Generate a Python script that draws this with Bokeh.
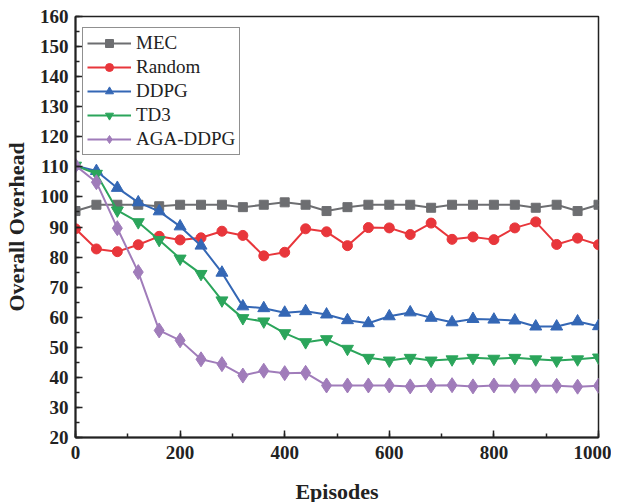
from bokeh.plotting import figure
from bokeh.models import Legend, LegendItem, Range1d, FixedTicker
from bokeh.embed import file_html
from bokeh.resources import INLINE

episodes = [0, 40, 80, 120, 160, 200, 240, 280, 320, 360, 400, 440, 480, 520,
            560, 600, 640, 680, 720, 760, 800, 840, 880, 920, 960, 1000]
mec = [95.3, 97.4, 97.4, 97.4, 96.9, 97.4, 97.4, 97.4, 96.6, 97.4, 98.2, 97.4, 95.3,
       96.6, 97.4, 97.4, 97.4, 96.4, 97.4, 97.4, 97.4, 97.4, 96.4, 97.4, 95.3, 97.4]
rand = [89.4, 82.7, 81.8, 84.1, 86.9, 85.7, 86.4, 88.6, 87.2, 80.4, 81.6, 89.4, 88.4,
        83.8, 89.8, 89.7, 87.5, 91.3, 85.9, 86.7, 85.8, 89.7, 91.7, 84.2, 86.3, 84.1]
ddpg = [110.4, 108.6, 103.0, 98.2, 95.2, 90.2, 83.8, 74.8, 63.6, 63.0, 61.5, 62.0, 60.9,
        59.0, 58.0, 60.3, 61.6, 59.8, 58.3, 59.4, 59.2, 58.9, 56.9, 56.9, 58.6, 57.0]
td3 = [110.4, 107.7, 95.5, 91.6, 85.7, 79.5, 74.4, 65.6, 59.7, 58.6, 54.7, 51.7, 52.7,
       49.5, 46.5, 45.6, 46.5, 45.6, 46.0, 46.5, 46.2, 46.5, 46.0, 45.6, 46.0, 46.6]
aga = [110.4, 104.9, 89.6, 75.0, 55.6, 52.3, 46.0, 44.4, 40.6, 42.2, 41.4, 41.5, 37.3,
       37.3, 37.3, 37.3, 37.0, 37.3, 37.4, 37.0, 37.3, 37.2, 37.2, 37.2, 36.9, 37.2]

names = ["MEC", "Random", "DDPG", "TD3", "AGA-DDPG"]
series = [mec, rand, ddpg, td3, aga]
colors = ["#6d6e71", "#e8363b", "#3467b5", "#2ba55b", "#a07cba"]
markers = ["square", "circle", "triangle", "inverted_triangle", "diamond"]
sizes = [9, 10, 12, 12, 15]

x_ticks = [0, 200, 400, 600, 800, 1000]
y_ticks = list(range(20, 161, 10))

FONT = "Liberation Serif"

p = figure(frame_width=523, frame_height=421, output_backend="svg", toolbar_location=None,
           x_range=Range1d(0, 1000), y_range=Range1d(20, 160),
           min_border_left=75, min_border_right=13, min_border_top=16, min_border_bottom=60)
p.xgrid.visible = False
p.ygrid.visible = False
p.outline_line_color = "#222222"
p.outline_line_width = 1.5
p.background_fill_color = "white"

items = []
for name, ys, c, m, s in zip(names, series, colors, markers, sizes):
    r1 = p.line(episodes, ys, line_color=c, line_width=2)
    r2 = p.scatter(episodes, ys, marker=m, size=s, fill_color=c, line_color=c)
    items.append(LegendItem(label=name, renderers=[r1, r2]))

p.xaxis.ticker = FixedTicker(ticks=x_ticks, minor_ticks=list(range(0, 1001, 100)))
p.yaxis.ticker = FixedTicker(ticks=y_ticks, minor_ticks=list(range(20, 161, 5)))

for ax in (p.xaxis[0], p.yaxis[0]):
    ax.axis_line_width = 2
    ax.axis_line_color = "#222222"
    ax.major_tick_in = 7
    ax.major_tick_out = 0
    ax.minor_tick_in = 4
    ax.minor_tick_out = 0
    ax.major_tick_line_width = 1.5
    ax.minor_tick_line_width = 1.5
    ax.major_tick_line_color = "#222222"
    ax.minor_tick_line_color = "#222222"
    ax.major_label_text_font = FONT
    ax.major_label_text_font_style = "bold"
    ax.major_label_text_font_size = "19px"
    ax.major_label_text_color = "#222222"
    ax.axis_label_text_font = FONT
    ax.axis_label_text_font_style = "bold"
    ax.axis_label_text_font_size = "22px"
    ax.axis_label_text_color = "#222222"

p.xaxis.axis_label = "Episodes"
p.yaxis.axis_label = "Overall Overhead"
p.xaxis.major_label_standoff = 8
p.yaxis.major_label_standoff = 7
p.xaxis.axis_label_standoff = 17
p.yaxis.axis_label_standoff = 8

legend = Legend(items=items, location=(7, 282))
legend.label_text_font = FONT
legend.label_text_font_size = "19px"
legend.label_text_color = "#222222"
legend.glyph_width = 44
legend.glyph_height = 20
legend.label_height = 20
legend.spacing = 2
legend.padding = 4
legend.margin = 0
legend.label_standoff = 5
legend.border_line_color = "#222222"
legend.border_line_width = 1
legend.background_fill_alpha = 1
p.add_layout(legend)

open("out.html", "w").write(file_html(p, INLINE))
